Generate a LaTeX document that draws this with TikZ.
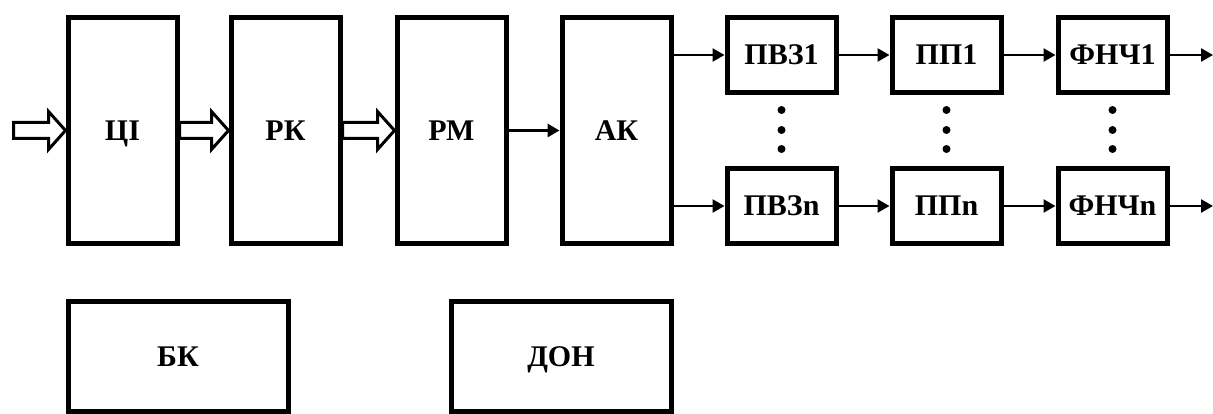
\documentclass[tikz,border=0pt]{standalone}
\usepackage{fontspec}
\setmainfont{Liberation Serif}
\usetikzlibrary{positioning,arrows.meta,calc}

\tikzset{
	block/.style={draw, line width=5pt, inner sep=0pt, text height=20pt, text depth=0pt,
		font=\bfseries\fontsize{30}{36}\selectfont},
	tallbox/.style={block, minimum width=109pt, minimum height=226pt},
	smallbox/.style={block, minimum width=109pt, minimum height=75pt},
	widebox/.style={block, minimum width=220pt, minimum height=110pt},
	sig/.style={line width=2.5pt, -{Triangle[length=12pt,width=13pt]}},
	hollow/.style={line width=3pt, line join=miter, fill=white}
}

% wide hollow arrow between two points (tail, tip)
\newcommand{\hollowarrow}[2]{%
	\draw[hollow] ($(#1)+(0,-8)$) -- ($(#2)+(-17,-8)$) -- ++(0,-11)
		-- (#2) -- ($(#2)+(-17,19)$) -- ++(0,-11) -- ($(#1)+(0,8)$) -- cycle;
}

\begin{document}
\begin{tikzpicture}[
	x=1pt,
	y=-1pt
	]
	\useasboundingbox (0,0) rectangle (1213,414);

	% --- main chain ---
	\node[tallbox] (ci) at (122.5,130.5) {ЦІ};
	\node[tallbox, right=49pt of ci] (rk) {РК};
	\node[tallbox, right=52pt of rk] (rm) {РМ};
	\node[tallbox, right=51pt of rm] (ak) {АК};

	% --- channels 1 ... n ---
	\node[smallbox, anchor=north west] (pvz1) at ([xshift=51pt]ak.north east) {ПВЗ1};
	\node[smallbox, right=51pt of pvz1] (pp1) {ПП1};
	\node[smallbox, right=52pt of pp1] (fnch1) {ФНЧ1};
	\node[smallbox, anchor=south west] (pvzn) at ([xshift=51pt]ak.south east) {ПВЗn};
	\node[smallbox, right=51pt of pvzn] (ppn) {ППn};
	\node[smallbox, right=52pt of ppn] (fnchn) {ФНЧn};

	% --- separate blocks ---
	\node[widebox, anchor=north west] (bk) at ([yshift=-53pt]ci.south west) {БК};
	\node[widebox, anchor=north east] (don) at ([yshift=-53pt]ak.south east) {ДОН};

	% --- wide (bus) arrows ---
	\coordinate (in) at (13.5,130.5);
	\hollowarrow{in}{ci.west}
	\hollowarrow{ci.east}{rk.west}
	\hollowarrow{rk.east}{rm.west}

	% --- signal arrows ---
	\draw[sig, line width=3.5pt] (rm) -- (ak);
	\draw[sig] (pvz1.west -| ak.east) -- (pvz1);
	\draw[sig] (pvzn.west -| ak.east) -- (pvzn);
	\draw[sig] (pvz1) -- (pp1);
	\draw[sig] (pvzn) -- (ppn);
	\draw[sig] (pp1) -- (fnch1);
	\draw[sig] (ppn) -- (fnchn);
	\coordinate (out1) at (1213,55);
	\coordinate (outn) at (1213,206);
	\draw[sig] (fnch1) -- (out1);
	\draw[sig] (fnchn) -- (outn);

	% dots between channel 1 and n
	\foreach \col in {pvz,pp,fnch}
		\foreach \y in {110,130,149}
			\fill (\col1.south |- 0,\y) circle[radius=4pt];
\end{tikzpicture}
\end{document}
